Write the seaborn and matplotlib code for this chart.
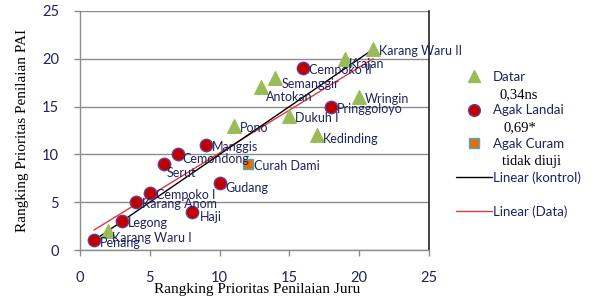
import matplotlib
matplotlib.use("Agg")
import matplotlib.pyplot as plt
import seaborn as sns
import pandas as pd
import numpy as np
from matplotlib.lines import Line2D

# ---------------- data ----------------
datar_names = ["Karang Waru II", "Krajan", "Semanggir", "Antokan", "Wringin",
               "Dukuh I", "Pono", "Kedinding", "Karang Waru I"]
datar_x = [21, 19, 14, 13, 20, 15, 11, 17, 2]
datar_y = [21, 20, 18, 17, 16, 14, 13, 12, 2]

landai_names = ["Cempoko II", "Pringgoloyo", "Manggis", "Cemondong", "Serut",
                "Gudang", "Cempoko I", "Karang Anom", "Haji", "Legong", "Penang"]
landai_x = [16, 18, 9, 7, 6, 10, 5, 4, 8, 3, 1]
landai_y = [19, 15, 11, 10, 9, 7, 6, 5, 4, 3, 1]

curam_names = ["Curah Dami"]
curam_x = [12]
curam_y = [9]

legend_labels = ["Datar", "Agak Landai", "Agak Curam", "Linear (kontrol)", "Linear (Data)"]
legend_stats = ["0,34ns", "0,69*", "tidak diuji"]
x_label = "Rangking Prioritas Penilaian Juru"
y_label = "Rangking Prioritas Penilaian PAI"
ticks = [0, 5, 10, 15, 20, 25]

# ---------------- frame ----------------
df = pd.concat([
    pd.DataFrame({"name": datar_names, "x": datar_x, "y": datar_y, "grp": "Datar"}),
    pd.DataFrame({"name": landai_names, "x": landai_x, "y": landai_y, "grp": "Agak Landai"}),
    pd.DataFrame({"name": curam_names, "x": curam_x, "y": curam_y, "grp": "Agak Curam"}),
], ignore_index=True)

sns.set_theme(style="white")
plt.rcParams["font.family"] = ["Lato", "DejaVu Sans"]

DPI = 100
fig = plt.figure(figsize=(6.15, 2.98), dpi=DPI)
ax = fig.add_axes([80/615, 1-250/298, 349/615, 239/298])

grid_c = "#8c8c8c"
text_c = "#1f2357"

# regression (Data) and control line
sns.regplot(data=df, x="x", y="y", scatter=False, ci=None, truncate=True, ax=ax,
            line_kws=dict(color="#e0393e", lw=1.0, zorder=3))
ctrl = sorted(df["x"])
sns.lineplot(x=ctrl, y=ctrl, color="black", lw=1.0, ax=ax, zorder=3)

markers = {"Datar": "^", "Agak Landai": "o", "Agak Curam": "s"}
face = {"Datar": "#9bbb59", "Agak Landai": "#c00000", "Agak Curam": "#e46c0a"}
edge = {"Datar": "#9bbb59", "Agak Landai": "#6a3f8f", "Agak Curam": "#4bacc6"}
size = {"Datar": 95, "Agak Landai": 80, "Agak Curam": 55}
for g in ["Datar", "Agak Landai", "Agak Curam"]:
    sub = df[df.grp == g]
    sns.scatterplot(data=sub, x="x", y="y", marker=markers[g], s=size[g],
                    color=face[g], edgecolor=edge[g], linewidth=1.0, ax=ax,
                    zorder=4, legend=False)

# label offsets in pixels (dx right, dy down)
off = {"Antokan": (4, 10), "Serut": (3, 9), "Karang Waru I": (4, 7),
       "Haji": (8, 5), "Gudang": (6, 5), "Kedinding": (6, 4), "Penang": (6, 3),
       "Krajan": (4, 5), "Semanggir": (6, 6), "Cemondong": (5, 5)}
px2pt = 72 / DPI
for _, r in df.iterrows():
    dx, dy = off.get(r["name"], (6, 2))
    ax.annotate(r["name"], (r["x"], r["y"]), xytext=(dx*px2pt, -dy*px2pt),
                textcoords="offset points", ha="left", va="center",
                fontsize=9, color=text_c, zorder=5)

ax.set_xlim(0, 25)
ax.set_ylim(0, 25)
ax.set_xticks(ticks)
ax.set_yticks(ticks)
ax.yaxis.grid(True, color=grid_c, lw=1.0)
ax.set_axisbelow(True)
for s in ["left", "bottom"]:
    ax.spines[s].set_color(grid_c)
    ax.spines[s].set_linewidth(1.0)
ax.spines["right"].set_color("#222222")
ax.spines["right"].set_linewidth(1.2)
ax.spines["top"].set_visible(False)
ax.tick_params(axis="x", length=4, width=1, color=grid_c, pad=11,
               labelsize=10.5, labelcolor=text_c)
ax.tick_params(axis="y", length=4, width=1, color=grid_c, pad=11,
               labelsize=10.5, labelcolor=text_c)
ax.tick_params(bottom=True, left=True)

ax.set_xlabel(x_label, family="Liberation Serif", fontsize=11, color="black")
ax.set_ylabel(y_label, family="Liberation Serif", fontsize=11, color="black")
ax.xaxis.set_label_coords(0.507, -0.14)
ax.yaxis.set_label_coords(-0.146, 0.5)

# legend
handles = [
    Line2D([], [], marker="^", ls="none", ms=9, mfc=face["Datar"], mec=edge["Datar"]),
    Line2D([], [], marker="o", ls="none", ms=8.5, mfc=face["Agak Landai"], mec=edge["Agak Landai"]),
    Line2D([], [], marker="s", ls="none", ms=7, mfc=face["Agak Curam"], mec=edge["Agak Curam"]),
    Line2D([], [], color="black", lw=1.0),
    Line2D([], [], color="#e0393e", lw=1.0),
]
leg = fig.legend(handles, legend_labels, loc="upper left",
                 bbox_to_anchor=(456/615, 1-71/298), frameon=False,
                 fontsize=9.5, labelspacing=1.62, handlelength=2.7,
                 handletextpad=0.1, borderpad=0, borderaxespad=0)
for t in leg.get_texts():
    t.set_color(text_c)

for txt, (xp, yp) in zip(legend_stats, [(500, 95), (503, 128), (502, 162)]):
    fig.text(xp/615, 1-yp/298, txt, family="Liberation Serif", fontsize=10.5,
             color="black", ha="left", va="center")

fig.savefig("out.png", dpi=DPI)
